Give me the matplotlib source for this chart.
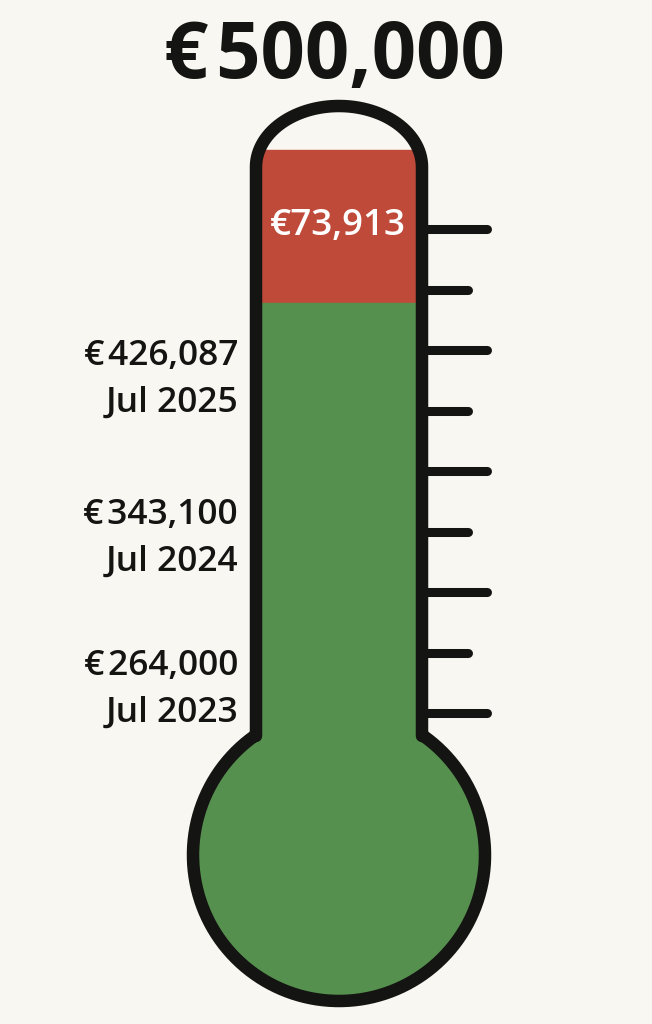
import numpy as np
import matplotlib.pyplot as plt
from matplotlib.patches import Polygon, Rectangle

# data
goal = 500000
raised = 426087
remaining = goal - raised
milestone_values = [426087, 343100, 264000]
milestone_dates = ["Jul 2025", "Jul 2024", "Jul 2023"]

bg = "#f9f7f2"
red = "#c04a3a"
green = "#56904e"
ink = "#141412"
font = ["Open Sans", "DejaVu Sans"]
gap = "\u200a"  # small gap after the euro sign, as in the original

fig = plt.figure(figsize=(6.52, 10.24), dpi=100, facecolor=bg)
ax = fig.add_axes([0, 0, 1, 1])
ax.set_xlim(0, 652)
ax.set_ylim(1024, 0)
ax.axis("off")

# value -> pixel height inside the tube
px_per_euro = 0.00207
def fill_y(v):
    return 150 + (goal - v) * px_per_euro

# milestone labels sit on their own scale on the left
def label_y(v):
    return 365 + (raised - v) * 0.00191

# thermometer outline (tube with rounded top + bulb)
cx, left, right = 339, 256, 422
t = np.linspace(np.pi, 0, 60)
top = np.column_stack([cx + 83 * np.cos(t), 167 - 61 * np.sin(t)])
bx, by, br = 339, 855, 146
a0 = np.arcsin(-119 / 146)
phi = np.linspace(a0, np.pi - a0, 120)
bulb = np.column_stack([bx + br * np.cos(phi), by + br * np.sin(phi)])
pts = np.vstack([[[left, 736]], top, [[right, 736]], bulb])
shape = Polygon(pts, closed=True, facecolor="none", edgecolor=ink,
                lw=9, joinstyle="round", zorder=4)
ax.add_patch(shape)

# fills
r_top, r_bot = fill_y(goal), fill_y(raised)
red_rect = Rectangle((0, r_top), 652, r_bot - r_top, color=red, zorder=2)
green_rect = Rectangle((0, r_bot), 652, 1024 - r_bot, color=green, zorder=2)
for p in (red_rect, green_rect):
    ax.add_patch(p)
    p.set_clip_path(shape)

# tick marks
tick_y = 229 + 60.5 * np.arange(9)
for i, y in enumerate(tick_y):
    x1 = 487 if i % 2 == 0 else 468
    ax.plot([426, x1], [y, y], color=ink, lw=6.5, solid_capstyle="round", zorder=3)

# texts
ax.text(334, 78, f"€{gap}{goal:,}", ha="center", va="baseline", fontsize=56,
        fontweight=700, color=ink, family=font)
ax.text(338, (r_top + r_bot) / 2, f"€{remaining:,}", ha="center", va="center",
        fontsize=26.5, fontweight=600, color="white", family=font, zorder=5)
for v, d in zip(milestone_values, milestone_dates):
    y = label_y(v)
    ax.text(238, y, f"€{gap}{v:,}", ha="right", va="baseline", fontsize=25.5,
            fontweight=600, color=ink, family=font)
    ax.text(238, y + 47, d, ha="right", va="baseline", fontsize=25.5,
            fontweight=600, color=ink, family=font)

fig.savefig("out.png", dpi=100, facecolor=bg)
